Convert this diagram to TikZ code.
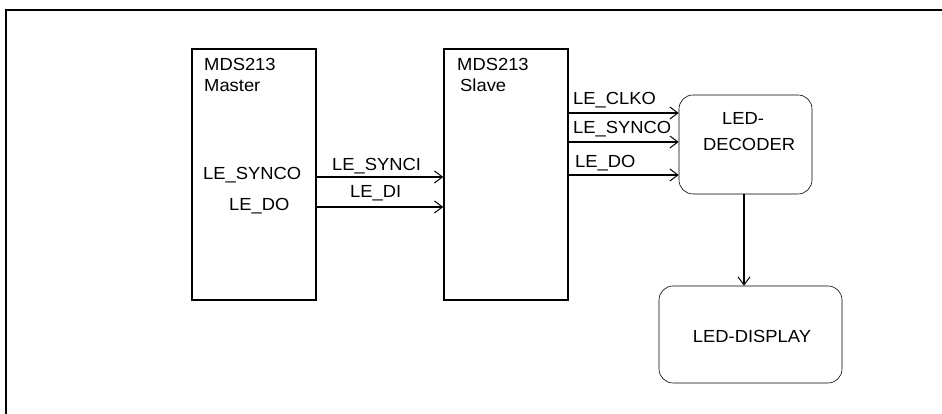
\documentclass[tikz,border=0pt]{standalone}
\usepackage{fontspec}
\setmainfont{Liberation Sans}[FakeStretch=1.05]
\usetikzlibrary{positioning,arrows.meta}

\begin{document}
\begin{tikzpicture}[x=1pt,y=1pt,
	chip/.style={draw, line width=1.5pt, minimum width=124pt, minimum height=251pt, inner sep=0pt},
	unit/.style={draw, line width=0.6pt, rounded corners=14pt, inner sep=0pt},
	sig/.style={inner sep=0pt, font=\fontsize{17.5}{20}\selectfont},
	wire/.style={line width=1.5pt, -{Straight Barb[length=8pt,width=12pt,line width=1pt]}}]
	\useasboundingbox (0,0) rectangle (942,414);
	\draw [line width=2pt] (6,-10) -- (6,404) -- (960,404);

	\node[chip] (master) at (254,239.5) {};
	\node[chip] (slave) at (506,239.5) {};
	\node[unit, minimum width=133pt, minimum height=99pt] (dec) at (745.5,269.5) {};
	\node[unit, minimum width=183pt, minimum height=97pt] (disp) at (750.5,79.5) {};

	\node[sig, anchor=base west] (mname) at (204,343) {MDS213};
	\node[sig, anchor=base west] (mrole) at (204,322) {Master};
	\node[sig, anchor=base west] (sname) at (457,343) {MDS213};
	\node[sig, anchor=base west] (srole) at (460,322) {Slave};

	\node[sig, anchor=base west] (msync) at (203,234) {LE\_SYNCO};
	\node[sig, anchor=base west] (mdo) at (229,203) {LE\_DO};
	\node[sig, anchor=base west] (ssynci) at (332,243) {LE\_SYNCI};
	\node[sig, anchor=base west] (sdi) at (350,216) {LE\_DI};

	\node[sig, anchor=base west] (clko) at (573,309) {LE\_CLKO};
	\node[sig, anchor=base west] (synco) at (573,280) {LE\_SYNCO};
	\node[sig, anchor=base west] (sdo) at (575,246) {LE\_DO};

	\node[sig, anchor=base west] (dec1) at (722,289) {LED-};
	\node[sig, anchor=base west] (dec2) at (703,263) {DECODER};
	\node[sig, anchor=base] (disptext) at (752,71) {LED-DISPLAY};

	\draw [wire] ([yshift=-2.5pt]master.east) -- ([yshift=-2.5pt]slave.west);
	\draw [wire] ([yshift=-32.5pt]master.east) -- ([yshift=-32.5pt]slave.west);

	\draw [wire] ([yshift=61.5pt]slave.east) -- ([yshift=31.5pt]dec.west);
	\draw [wire] ([yshift=32.5pt]slave.east) -- ([yshift=2.5pt]dec.west);
	\draw [wire] ([yshift=-0.5pt]slave.east) -- ([yshift=-30.5pt]dec.west);

	\draw [wire] ([xshift=-1.5pt]dec.south) -- ([xshift=-1.5pt]dec.south |- disp.north);
\end{tikzpicture}
\end{document}
